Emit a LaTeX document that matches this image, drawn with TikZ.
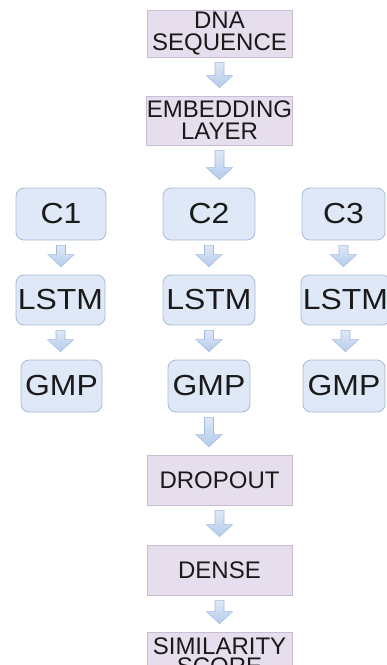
\documentclass[tikz,border=0pt]{standalone}
\usepackage{fontspec}
\setmainfont{Liberation Sans}
\newfontfamily\widesans[FakeStretch=1.1]{Liberation Sans}
\usetikzlibrary{calc}

\definecolor{layerfill}{HTML}{E6DEED}
\definecolor{layerline}{HTML}{C9BDD6}
\definecolor{branchfill}{HTML}{DFE8F7}
\definecolor{branchline}{HTML}{A8BBD8}
\definecolor{arrowtop}{HTML}{DDE8F7}
\definecolor{arrowbot}{HTML}{B5CCEC}
\definecolor{arrowline}{HTML}{A3BCDD}
\definecolor{ink}{HTML}{1A1A1A}

\tikzset{
  layer/.style={draw=layerline, fill=layerfill, line width=0.8pt,
    minimum width=145pt, align=center, text=ink, inner sep=0pt,
    font=\fontsize{24}{22}\selectfont},
  branch/.style={draw=branchline, fill=branchfill, line width=0.8pt,
    rounded corners=8pt, text=ink, inner sep=0pt,
    font=\widesans\fontsize{29}{29}\selectfont},
  flow/.style={draw=arrowline, line width=0.6pt, top color=arrowtop,
    bottom color=arrowbot, line join=miter}
}

% hollow block arrow from the bottom of one node to the top of the next
\newcommand\flowarrow[2]{%
  \path[flow] let \p1=(#1.south), \p2=(#2.north) in
    (\x1-4.5,\y1-5) -- (\x1+4.5,\y1-5) -- (\x1+4.5,\y2+20)
    -- (\x1+13,\y2+20) -- (\x1,\y2+8) -- (\x1-13,\y2+20)
    -- (\x1-4.5,\y2+20) -- cycle;}

\begin{document}
\begin{tikzpicture}[x=1pt, y=-1pt]
  \useasboundingbox[fill=white] (0,0) rectangle (387,665);
  \clip (0,0) rectangle (387,665);

  % main column
  \node[layer, minimum height=47pt] (dna) at (219.5,33.5) {DNA\\SEQUENCE};
  \node[layer, minimum height=49pt] (emb) at (219.5,120.5) {EMBEDDING\\LAYER};

  % three parallel branches
  \node[branch, minimum width=90pt, minimum height=52pt] (c1) at (61,214) {C1};
  \node[branch, minimum width=92pt, minimum height=52pt] (c2) at (209,214) {C2};
  \node[branch, minimum width=83pt, minimum height=52pt] (c3) at (343.5,214) {C3};

  \node[branch, minimum width=89pt, minimum height=50pt] (l1) at (60.5,300) {LSTM};
  \node[branch, minimum width=92pt, minimum height=50pt] (l2) at (209,300) {LSTM};
  \node[branch, minimum width=89pt, minimum height=50pt] (l3) at (345.5,300) {LSTM};

  \node[branch, minimum width=81pt, minimum height=52pt] (g1) at (61.5,386) {GMP};
  \node[branch, minimum width=82pt, minimum height=52pt] (g2) at (209,386) {GMP};
  \node[branch, minimum width=82pt, minimum height=52pt] (g3) at (344,386) {GMP};

  % head of the network
  \node[layer, minimum height=50pt] (drop) at (219.5,480) {DROPOUT};
  \node[layer, minimum height=50pt] (dense) at (219.5,570) {DENSE};
  \node[layer, minimum height=48pt, font=\fontsize{24}{19.5}\selectfont]
    (sim) at (219.5,656) {SIMILARITY\\SCORE};

  % connectors
  \flowarrow{dna}{emb}
  \flowarrow{emb}{c2}
  \flowarrow{c1}{l1}
  \flowarrow{c2}{l2}
  \flowarrow{c3}{l3}
  \flowarrow{l1}{g1}
  \flowarrow{l2}{g2}
  \flowarrow{l3}{g3}
  \flowarrow{g2}{drop}
  \flowarrow{drop}{dense}
  \flowarrow{dense}{sim}
\end{tikzpicture}
\end{document}
